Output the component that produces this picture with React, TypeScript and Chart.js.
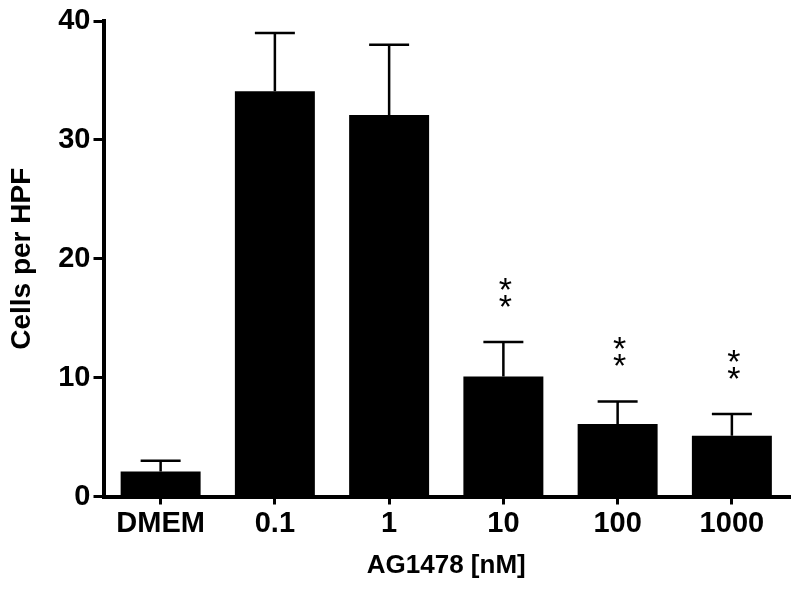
import React, { useEffect, useRef } from "react";
import { Chart, registerables } from "chart.js";

Chart.register(...registerables);

const categories = ["DMEM", "0.1", "1", "10", "100", "1000"];
const means = [2.1, 34.1, 32.1, 10.1, 6.1, 5.1];
const sem = [0.9, 4.9, 5.9, 2.9, 1.9, 1.85];
const significance = ["", "", "", "**", "**", "**"];
const yMin = 0;
const yMax = 40;
const yStep = 10;
const xTitle = "AG1478 [nM]";
const yTitle = "Cells per HPF";

const FONT = "'Liberation Sans', Arial, Helvetica, sans-serif";

const errorBarPlugin = {
  id: "errorBars",
  afterDatasetsDraw(chart: any) {
    const { ctx } = chart;
    const y = chart.scales.y;
    const meta = chart.getDatasetMeta(0);
    ctx.save();
    ctx.strokeStyle = "#000";
    ctx.fillStyle = "#000";
    ctx.lineWidth = 2.5;
    meta.data.forEach((bar: any, i: number) => {
      const x = bar.x;
      const top = y.getPixelForValue(means[i]);
      const errTop = y.getPixelForValue(means[i] + sem[i]);
      const half = bar.width / 4;
      ctx.beginPath();
      ctx.moveTo(x, top);
      ctx.lineTo(x, errTop);
      ctx.moveTo(x - half, errTop);
      ctx.lineTo(x + half, errTop);
      ctx.stroke();
      const stars = significance[i];
      if (stars) {
        const size = 34;
        ctx.font = `${size}px ${FONT}`;
        ctx.textAlign = "center";
        ctx.textBaseline = "alphabetic";
        for (let k = 0; k < stars.length; k++) {
          const cy = errTop - 44 - k * 17;
          ctx.fillText(stars[k], x + 2, cy + 0.58 * size);
        }
      }
    });
    ctx.restore();
  },
};

export default function App() {
  const ref = useRef<HTMLCanvasElement | null>(null);

  useEffect(() => {
    document.body.style.margin = "0";
    const canvas = ref.current;
    if (!canvas) return;
    const chart = new Chart(canvas, {
      type: "bar",
      data: {
        labels: categories,
        datasets: [
          {
            data: means,
            backgroundColor: "#000",
            borderWidth: 0,
            barPercentage: 0.7,
            categoryPercentage: 1,
          },
        ],
      },
      options: {
        responsive: false,
        animation: false,
        devicePixelRatio: 1,
        layout: { padding: { top: 21, right: 11, left: 0, bottom: 0 } },
        plugins: {
          legend: { display: false },
          tooltip: { enabled: false },
        },
        scales: {
          x: {
            type: "category",
            offset: true,
            grid: {
              display: true,
              drawOnChartArea: false,
              drawTicks: true,
              tickLength: 8,
              lineWidth: 3,
              color: "#000",
              offset: false,
            },
            border: { display: true, color: "#000", width: 4 },
            ticks: {
              color: "#000",
              padding: 2,
              font: { family: FONT, size: 29, weight: "bold" },
            },
            title: {
              display: true,
              text: xTitle,
              color: "#000",
              font: { family: FONT, size: 26, weight: "bold" },
              padding: { top: 0, bottom: 14 },
            },
            afterFit: (s: any) => {
              s.height = 98.5;
            },
          },
          y: {
            min: yMin,
            max: yMax,
            grid: {
              display: true,
              drawOnChartArea: false,
              drawTicks: true,
              tickLength: 10,
              lineWidth: 3,
              color: "#000",
            },
            border: { display: true, color: "#000", width: 4 },
            ticks: {
              stepSize: yStep,
              color: "#000",
              padding: 3,
              font: { family: FONT, size: 29, weight: "bold" },
            },
            title: {
              display: true,
              text: yTitle,
              color: "#000",
              font: { family: FONT, size: 28, weight: "bold" },
              padding: { top: 5, bottom: 0 },
            },
            afterFit: (s: any) => {
              s.width = 103.5;
            },
          },
        },
      },
      plugins: [errorBarPlugin],
    });
    return () => chart.destroy();
  }, []);

  return (
    <div style={{ width: 800, height: 595, background: "#fff" }}>
      <canvas ref={ref} width={800} height={595} style={{ display: "block" }} />
    </div>
  );
}
